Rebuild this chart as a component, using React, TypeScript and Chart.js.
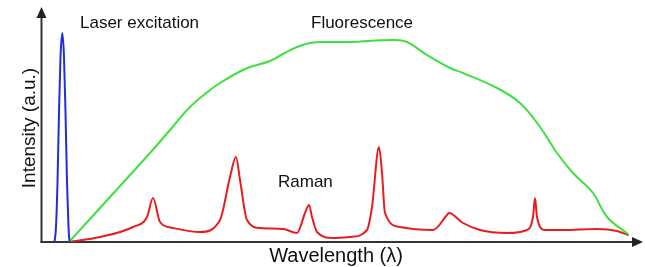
import React, { useEffect, useRef } from "react";
import { Chart, registerables } from "chart.js";

Chart.register(...registerables);

// Wavelength positions (arbitrary units) and intensities (a.u.)
const laserX = [13.5, 15, 16.5, 18, 19.5, 21.3, 23, 24.5, 26, 27.5, 28.5];
const laserY = [0, 15, 60, 130, 185, 209, 185, 130, 60, 15, 0];

const fluoX = [28, 69, 109, 129, 149, 169, 179, 196, 209, 229, 242, 256, 269, 286, 309, 352, 366, 386, 409, 422, 456, 479, 499, 516, 532, 552, 566, 587];
const fluoY = [0, 45, 89, 112, 135, 152, 159, 169, 175, 181, 188, 195, 199, 200, 200, 202, 200, 187, 174, 169, 154, 139, 115, 89, 69, 49, 25, 8];

const ramanX = [28, 59, 92, 106, 112, 119, 132, 159, 179, 189, 195, 199, 206, 219, 242, 256, 264, 268, 271, 276, 292, 309, 326, 331, 338, 341, 344, 359, 392, 406, 408, 422, 439, 466, 486, 492, 494, 496, 504, 522, 556, 576, 587];
const ramanY = [0, 5, 15, 25, 44, 20, 14, 10, 22, 65, 85, 62, 22, 14, 13, 9, 29, 37, 25, 10, 4, 5, 12, 35, 95, 69, 29, 15, 12, 27, 29, 19, 12, 9, 12, 25, 44, 25, 12, 12, 13, 11, 7];

const labelLaser = "Laser excitation";
const labelFluo = "Fluorescence";
const labelRaman = "Raman";
const xTitle = "Wavelength (λ)";
const yTitle = "Intensity (a.u.)";

const toPts = (xs: number[], ys: number[]) => xs.map((x, i) => ({ x, y: ys[i] }));

const FONT = "'Liberation Sans', Arial, sans-serif";

const decorPlugin = {
  id: "decor",
  beforeDatasetsDraw(chart: any) {
    const { ctx, chartArea } = chart;
    const { left, right, bottom, top } = chartArea;
    ctx.save();
    ctx.strokeStyle = "#333";
    ctx.fillStyle = "#222";
    ctx.lineWidth = 2;
    // y axis
    ctx.beginPath();
    ctx.moveTo(left + 0.5, bottom + 1);
    ctx.lineTo(left + 0.5, top + 8);
    ctx.stroke();
    ctx.beginPath();
    ctx.moveTo(left + 0.5, top - 1);
    ctx.lineTo(left - 4.5, top + 10);
    ctx.lineTo(left + 5.5, top + 10);
    ctx.closePath();
    ctx.fill();
    // x axis
    ctx.beginPath();
    ctx.moveTo(left - 0.5, bottom);
    ctx.lineTo(right - 6, bottom);
    ctx.stroke();
    ctx.beginPath();
    ctx.moveTo(right + 2, bottom);
    ctx.lineTo(right - 9, bottom - 5);
    ctx.lineTo(right - 9, bottom + 5);
    ctx.closePath();
    ctx.fill();
    ctx.restore();
  },
  afterDatasetsDraw(chart: any) {
    const { ctx, chartArea, scales } = chart;
    const xs = scales.x;
    const ys = scales.y;
    ctx.save();
    ctx.fillStyle = "#111";
    ctx.textBaseline = "alphabetic";
    ctx.font = `17px ${FONT}`;
    ctx.textAlign = "left";
    ctx.fillText(labelLaser, xs.getPixelForValue(39), ys.getPixelForValue(214));
    ctx.fillText(labelFluo, xs.getPixelForValue(270), ys.getPixelForValue(214));
    ctx.fillText(labelRaman, xs.getPixelForValue(237), ys.getPixelForValue(55));
    // axis titles
    ctx.font = `20px ${FONT}`;
    ctx.textAlign = "center";
    ctx.fillText(xTitle, 336, chartArea.bottom + 20);
    ctx.save();
    ctx.translate(34.5, 128);
    ctx.rotate(-Math.PI / 2);
    ctx.font = `19px ${FONT}`;
    ctx.fillText(yTitle, 0, 0);
    ctx.restore();
    ctx.restore();
  },
};

export default function App() {
  const ref = useRef<HTMLCanvasElement | null>(null);
  useEffect(() => {
    if (!ref.current) return;
    const chart = new Chart(ref.current, {
      type: "line",
      data: {
        datasets: [
          {
            label: labelLaser,
            data: toPts(laserX, laserY),
            borderColor: "#1f2fe0",
            borderWidth: 2,
            pointRadius: 0,
            cubicInterpolationMode: "monotone",
            fill: false,
          },
          {
            label: labelFluo,
            data: toPts(fluoX, fluoY),
            borderColor: "#3fe03f",
            borderWidth: 2,
            pointRadius: 0,
            tension: 0.4,
            fill: false,
          },
          {
            label: labelRaman,
            data: toPts(ramanX, ramanY),
            borderColor: "#e61e1e",
            borderWidth: 2,
            pointRadius: 0,
            cubicInterpolationMode: "monotone",
            fill: false,
          },
        ],
      },
      options: {
        responsive: false,
        animation: false,
        layout: { padding: { left: 41, right: 4, top: 8, bottom: 25 } },
        plugins: { legend: { display: false }, tooltip: { enabled: false } },
        scales: {
          x: { type: "linear", min: 0, max: 600, display: false },
          y: { type: "linear", min: 0, max: 234, display: false },
        },
        elements: { line: { borderJoinStyle: "round", borderCapStyle: "round" } },
      },
      plugins: [decorPlugin],
    } as any);
    return () => chart.destroy();
  }, []);
  return (
    <div style={{ position: "fixed", left: 0, top: 0, width: 645, height: 267, background: "#fff" }}>
      <canvas ref={ref} width={645} height={267} style={{ display: "block" }} />
    </div>
  );
}
